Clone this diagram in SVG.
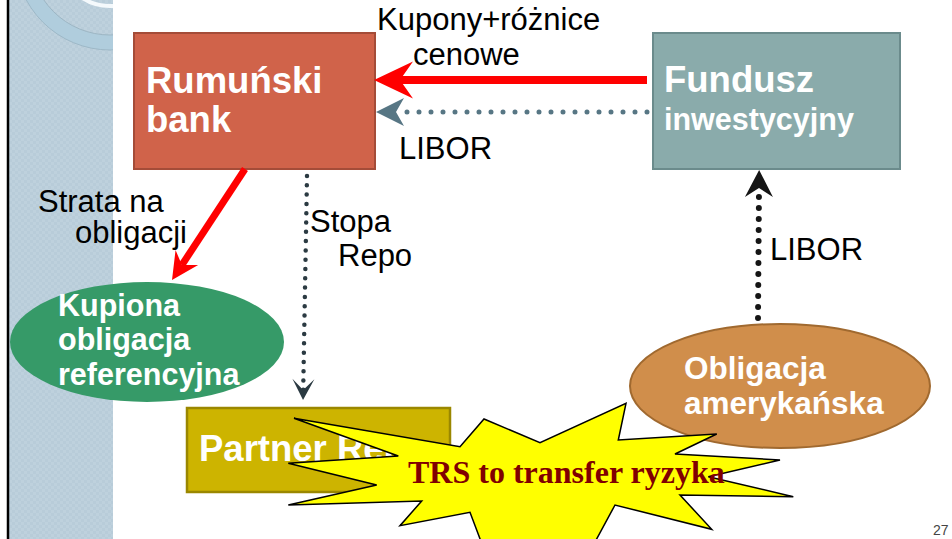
<svg xmlns="http://www.w3.org/2000/svg" width="952" height="539" viewBox="0 0 952 539">
<style>
.lbl{font-family:"Liberation Sans",Arial,sans-serif;font-size:31px;fill:#000}
.nd{font-family:"Liberation Sans",Arial,sans-serif;font-weight:bold;fill:#fff}
.dot{fill:none;stroke-linecap:round}
</style>
<defs>
<pattern id="chk" width="6" height="6" patternUnits="userSpaceOnUse">
<rect width="6" height="6" fill="#bed1dd"/>
<rect width="3" height="3" fill="#b8ccd9"/>
<rect x="3" y="3" width="3" height="3" fill="#b8ccd9"/>
</pattern>
<clipPath id="sb"><rect x="9" y="0" width="104" height="539"/></clipPath>
<marker id="hRed" markerUnits="userSpaceOnUse" orient="auto" overflow="visible" refX="0" refY="0" markerWidth="1" markerHeight="1">
<path d="M26,0 L-13,-18.5 L0,0 L-13,18.5 Z" fill="#ff0000"/>
</marker>
<marker id="hRed2" markerUnits="userSpaceOnUse" orient="auto" overflow="visible" refX="0" refY="0" markerWidth="1" markerHeight="1">
<path d="M18,0 L-9,-13.5 L0,0 L-9,13.5 Z" fill="#ff0000"/>
</marker>
<marker id="hSlate" markerUnits="userSpaceOnUse" orient="auto" overflow="visible" refX="0" refY="0" markerWidth="1" markerHeight="1">
<path d="M20,0 L-8,-14 L0,0 L-8,14 Z" fill="#577684"/>
</marker>
<marker id="hDark" markerUnits="userSpaceOnUse" orient="auto" overflow="visible" refX="0" refY="0" markerWidth="1" markerHeight="1">
<path d="M10,0 L-11,-11 L0,0 L-11,11 Z" fill="#2b3a42"/>
</marker>
<marker id="hBlack" markerUnits="userSpaceOnUse" orient="auto" overflow="visible" refX="0" refY="0" markerWidth="1" markerHeight="1">
<path d="M18,0 L-9,-14 L0,0 L-9,14 Z" fill="#151515"/>
</marker>
</defs>

<rect width="952" height="539" fill="#fff"/>
<g id="sidebar">
<rect x="9" y="0" width="104" height="539" fill="url(#chk)"/>
<g clip-path="url(#sb)">
<circle cx="110" cy="-45" r="87.5" fill="none" stroke="#b0cddd" stroke-width="15"/>
<circle cx="110" cy="-45" r="95" fill="none" stroke="#9db8c7" stroke-width="1"/>
<circle cx="110" cy="-45" r="80" fill="none" stroke="#9db6c4" stroke-width="1"/>
<circle cx="110" cy="-45" r="51" fill="none" stroke="#f4f9fc" stroke-width="4"/>
</g>
<line x1="8" y1="0" x2="8" y2="539" stroke="#000" stroke-width="2.5"/>
</g>

<g id="bank">
<rect x="134" y="33" width="241" height="136" fill="#d0634a" stroke="#a44c38" stroke-width="2"/>
<text class="nd" x="146" y="93" font-size="36.5">Rumuński</text>
<text class="nd" x="146" y="132" font-size="36.5">bank</text>
</g>

<g id="fundusz">
<rect x="653" y="33" width="247" height="136" fill="#8aabab" stroke="#6b8b8c" stroke-width="2"/>
<text class="nd" x="664" y="92" font-size="36.5">Fundusz</text>
<text class="nd" x="664" y="130" font-size="30.5">inwestycyjny</text>
</g>

<g id="kupiona">
<ellipse cx="147" cy="342" rx="137" ry="60" fill="#369a68"/>
<text class="nd" x="58" y="316" font-size="30.5">Kupiona</text>
<text class="nd" x="58" y="350" font-size="30.5">obligacja</text>
<text class="nd" x="58" y="385" font-size="30.5">referencyjna</text>
</g>

<g id="obligacja">
<ellipse cx="780" cy="386" rx="150" ry="62" fill="#d08e4b" stroke="#a0692f" stroke-width="2"/>
<text class="nd" x="684" y="379" font-size="31.5">Obligacja</text>
<text class="nd" x="684" y="414" font-size="31.5">amerykańska</text>
</g>

<g id="partner">
<rect x="187" y="408" width="263" height="84" fill="#cdb400" stroke="#9a8700" stroke-width="2.5"/>
<text class="nd" x="199" y="461" font-size="36.5">Partner Repo</text>
</g>

<g id="connectors">
<line x1="647" y1="80" x2="400" y2="80" stroke="#ff0000" stroke-width="8" marker-end="url(#hRed)"/>
<line class="dot" x1="647" y1="112" x2="396" y2="112" stroke="#577684" stroke-width="5" stroke-dasharray="0 12" marker-end="url(#hSlate)"/>
<line x1="245" y1="169" x2="181.9" y2="265" stroke="#ff0000" stroke-width="7" marker-end="url(#hRed2)"/>
<line class="dot" x1="307" y1="176" x2="303.2" y2="390" stroke="#2b3a42" stroke-width="4.5" stroke-dasharray="0 9.3" marker-end="url(#hDark)"/>
<line class="dot" x1="758" y1="318" x2="759" y2="188" stroke="#151515" stroke-width="6" stroke-dasharray="0 11" marker-end="url(#hBlack)"/>
</g>

<g id="labels">
<text class="lbl" x="377" y="30">Kupony+różnice</text>
<text class="lbl" x="413" y="65">cenowe</text>
<text class="lbl" x="399" y="159">LIBOR</text>
<text class="lbl" x="38" y="212">Strata na</text>
<text class="lbl" x="75" y="243">obligacji</text>
<text class="lbl" x="310" y="232">Stopa</text>
<text class="lbl" x="338" y="266">Repo</text>
<text class="lbl" x="770" y="260">LIBOR</text>
</g>

<g id="trs">
<polygon points="294,418.3 460,446.7 484,419 540,442.7 626,403.3 618.3,440 716.7,434 675,454 780,460 708.3,476.7 793.3,496.7 680,495 711.7,529.3 615,505 528,666 470,512.3 400,525.7 421.7,501 288.3,505 376.7,485 288.3,463.3 398.3,456" fill="#ffff00" stroke="#000" stroke-width="1.5" stroke-linejoin="miter"/>
<text x="408" y="483" font-family="'Liberation Serif','Times New Roman',serif" font-weight="bold" font-size="32" fill="#800000">TRS to transfer ryzyka</text>
</g>

<text x="933" y="535" font-family="'Liberation Sans',Arial,sans-serif" font-size="14" fill="#444">27</text>
</svg>
